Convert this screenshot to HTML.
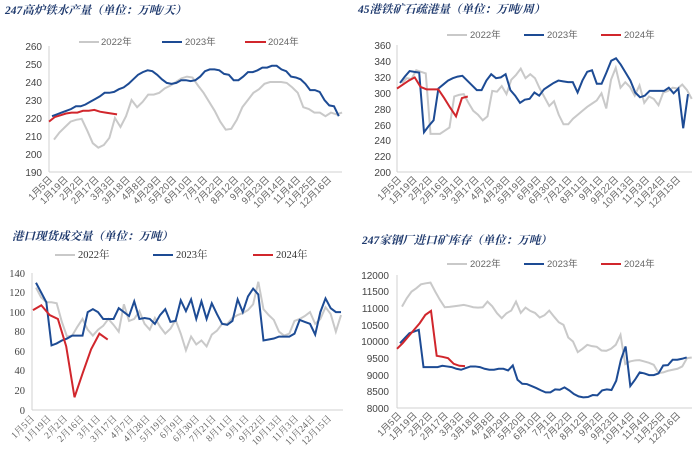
<!DOCTYPE html>
<html><head><meta charset="utf-8"><style>
body{margin:0;background:#fff;}
svg{display:block;font-family:"Liberation Sans","Noto Sans CJK SC",sans-serif;}
.t{font-family:"Liberation Serif","Noto Serif CJK SC",serif;font-weight:bold;font-size:11.5px;fill:#1f3a6e;font-style:italic}
.yl{font-size:10px;fill:#444;text-anchor:end}
.xl{font-size:9.5px;fill:#666;text-anchor:end}
.lg{font-size:9.5px;fill:#666}
.g{fill:none;stroke:#c9c9c9;stroke-width:2}
.b{fill:none;stroke:#1d4b94;stroke-width:2}
.r{fill:none;stroke:#d1262c;stroke-width:2}
.ax{stroke:#d0d0d0;stroke-width:1}
</style></head><body>
<svg width="698" height="460" viewBox="0 0 698 460">
<!-- Panel 1 -->
<text class="t" x="5" y="14">247高炉铁水产量（单位：万吨/天）</text>
<line class="ax" x1="79" y1="42" x2="99" y2="42" style="stroke:#c9c9c9;stroke-width:2"/><text class="lg" x="101" y="45">2022年</text>
<line x1="162" y1="42" x2="182" y2="42" stroke="#1d4b94" stroke-width="2"/><text class="lg" x="185" y="45">2023年</text>
<line x1="245" y1="42" x2="266" y2="42" stroke="#d1262c" stroke-width="2"/><text class="lg" x="268" y="45">2024年</text>
<g class="yl"><text x="42" y="50">260</text><text x="42" y="68">250</text><text x="42" y="86">240</text><text x="42" y="104">230</text><text x="42" y="122">220</text><text x="42" y="140">210</text><text x="42" y="158">200</text><text x="42" y="176">190</text></g>
<line class="ax" x1="49" y1="46" x2="49" y2="172"/><line class="ax" x1="49" y1="172" x2="342" y2="172"/>
<g transform="translate(54,514) scale(5.54,-1.8)"><polyline class="g" vector-effect="non-scaling-stroke" points="0,208 1,212 2,215 3,218 4,219 5,219.5 6,213 7,206 8,203.5 9,205 10,209 11,220 12,215 13,221 14,230 15,226 16,229 17,233 18,233 19,234 20,236.5 21,238 22,240 23,242 24,243 25,242.5 26,238 27,234 28,229 29,224 30,218 31,213.5 32,214 33,219 34,226 35,230 36,234 37,236 38,239 39,240 40,240 41,240 42,239.5 43,237 44,234 45,226 46,225 47,223 48,223 49,221 50,223 51,222 52,223"/></g>
<g transform="translate(52,514) scale(4.78,-1.8)"><polyline class="b" vector-effect="non-scaling-stroke" points="0,221 1,222 2,223 3,224 4,225 5,226.5 6,226.5 7,227.5 8,229 9,230.5 10,232 11,234 12,234 13,234.5 14,236 15,237 16,239 17,241.5 18,244 19,245.5 20,246.5 21,246 22,244 23,241.5 24,239.5 25,239 26,239.5 27,241 28,241 29,240.5 30,241 31,243 32,246 33,247 34,247 35,246.5 36,244.5 37,244 38,241 39,241 40,243 41,245.5 42,245.5 43,246.5 44,248 45,248 46,249 47,249 48,247 49,246 50,243 51,242.5 52,241.5 53,239 54,235.5 55,235.5 56,234.5 57,230 58,227 59,226.5 60,221"/></g>
<g transform="translate(49,514) scale(5.67,-1.8)"><polyline class="r" vector-effect="non-scaling-stroke" points="0,218 1,220.5 2,221.5 3,222.5 4,223 5,223 6,224 7,224 8,224.5 9,223.5 10,223 11,222.5 12,222"/></g>
<g class="xl">
<text transform="translate(53,180) rotate(-45)">1月5日</text><text transform="translate(68.5,180) rotate(-45)">1月19日</text><text transform="translate(84,180) rotate(-45)">2月2日</text><text transform="translate(99.5,180) rotate(-45)">2月17日</text><text transform="translate(115,180) rotate(-45)">3月3日</text><text transform="translate(130.5,180) rotate(-45)">3月18日</text><text transform="translate(146,180) rotate(-45)">4月8日</text><text transform="translate(161.5,180) rotate(-45)">4月29日</text><text transform="translate(177,180) rotate(-45)">5月20日</text><text transform="translate(192.5,180) rotate(-45)">6月10日</text><text transform="translate(208,180) rotate(-45)">7月1日</text><text transform="translate(223.5,180) rotate(-45)">7月22日</text><text transform="translate(239,180) rotate(-45)">8月12日</text><text transform="translate(254.5,180) rotate(-45)">9月2日</text><text transform="translate(270,180) rotate(-45)">9月23日</text><text transform="translate(285.5,180) rotate(-45)">10月14日</text><text transform="translate(301,180) rotate(-45)">11月4日</text><text transform="translate(316.5,180) rotate(-45)">11月25日</text><text transform="translate(332,180) rotate(-45)">12月16日</text>
</g>

<!-- Panel 2 -->
<text class="t" x="358" y="13">45港铁矿石疏港量（单位：万吨/周）</text>
<line x1="447" y1="35" x2="467" y2="35" stroke="#c9c9c9" stroke-width="2"/><text class="lg" x="470" y="38">2022年</text>
<line x1="524" y1="35" x2="544" y2="35" stroke="#1d4b94" stroke-width="2"/><text class="lg" x="547" y="38">2023年</text>
<line x1="601" y1="35" x2="621" y2="35" stroke="#d1262c" stroke-width="2"/><text class="lg" x="624" y="38">2024年</text>
<g class="yl"><text x="391" y="49">360</text><text x="391" y="65">340</text><text x="391" y="81">320</text><text x="391" y="97">300</text><text x="391" y="113">280</text><text x="391" y="129">260</text><text x="391" y="144">240</text><text x="391" y="160">220</text><text x="391" y="176">200</text></g>
<line class="ax" x1="397" y1="45" x2="397" y2="172"/><line class="ax" x1="397" y1="172" x2="692" y2="172"/>
<g transform="translate(402,331) scale(4.75,-0.795)"><polyline class="g" vector-effect="non-scaling-stroke" points="0,312 1,318 2,317 3,328 4,326 5,324 6,248 7,248 8,248 9,252 10,256 11,295 12,297 13,298 14,287 15,277 16,272 17,265 18,270 19,302 20,301 21,308 22,298 23,316 24,322 25,330 26,318 27,323 28,318 29,305 30,294 31,283 32,289 33,272 34,260 35,260 36,267 37,272 38,277 39,282 40,286 41,290 42,299 43,280 44,316 45,331 46,306 47,313 48,307 49,296 50,309 51,287 52,295 53,292 54,284 55,300 56,302 57,306 58,305 59,310 60,303 61,292"/></g>
<g transform="translate(400,331) scale(4.8,-0.795)"><polyline class="b" vector-effect="non-scaling-stroke" points="0,312 1,320 2,327 3,326 4,325 5,250 6,258 7,265 8,305 9,310 10,315 11,318 12,320 13,321 14,315 15,309 16,303 17,303 18,315 19,323 20,318 21,319 22,323 23,303 24,296 25,287 26,291 27,292 28,300 29,296 30,304 31,308 32,312 33,315 34,314 35,313 36,313 37,300 38,315 39,326 40,328 41,311 42,311 43,325 44,340 45,343 46,335 47,325 48,315 49,300 50,294 51,296 52,302 53,302 54,302 55,302 56,306 57,299 58,305 59,255 60,298"/></g>
<g transform="translate(397,331) scale(5.9,-0.795)"><polyline class="r" vector-effect="non-scaling-stroke" points="0,305 1,310 2,315 3,319 4,307 5,304 6,304 7,304 8,293 9,281 10,270 11,293 12,295"/></g>
<g class="xl">
<text transform="translate(402,180) rotate(-45)">1月5日</text><text transform="translate(417.5,180) rotate(-45)">1月19日</text><text transform="translate(433,180) rotate(-45)">2月2日</text><text transform="translate(448.5,180) rotate(-45)">2月16日</text><text transform="translate(464,180) rotate(-45)">3月1日</text><text transform="translate(479.5,180) rotate(-45)">3月17日</text><text transform="translate(495,180) rotate(-45)">4月7日</text><text transform="translate(510.5,180) rotate(-45)">4月28日</text><text transform="translate(526,180) rotate(-45)">5月19日</text><text transform="translate(541.5,180) rotate(-45)">6月9日</text><text transform="translate(557,180) rotate(-45)">6月30日</text><text transform="translate(572.5,180) rotate(-45)">7月21日</text><text transform="translate(588,180) rotate(-45)">8月11日</text><text transform="translate(603.5,180) rotate(-45)">9月1日</text><text transform="translate(619,180) rotate(-45)">9月22日</text><text transform="translate(634.5,180) rotate(-45)">10月13日</text><text transform="translate(650,180) rotate(-45)">11月3日</text><text transform="translate(665.5,180) rotate(-45)">11月24日</text><text transform="translate(681,180) rotate(-45)">12月15日</text>
</g>

<!-- Panel 3 -->
<text class="t" x="12" y="240">港口现货成交量（单位：万吨）</text>
<line x1="55" y1="255" x2="75" y2="255" stroke="#c9c9c9" stroke-width="2"/><text class="lg" x="78" y="258" style="font-family:'Liberation Serif','Noto Serif CJK SC',serif;font-size:10.5px;fill:#333">2022年</text>
<line x1="153" y1="255" x2="173" y2="255" stroke="#1d4b94" stroke-width="2"/><text class="lg" x="176" y="258" style="font-family:'Liberation Serif','Noto Serif CJK SC',serif;font-size:10.5px;fill:#333">2023年</text>
<line x1="253" y1="255" x2="273" y2="255" stroke="#d1262c" stroke-width="2"/><text class="lg" x="276" y="258" style="font-family:'Liberation Serif','Noto Serif CJK SC',serif;font-size:10.5px;fill:#333">2024年</text>
<g class="yl" style="font-family:'Liberation Serif',serif;font-size:10.5px"><text x="25" y="277">140</text><text x="25" y="296">120</text><text x="25" y="316">100</text><text x="25" y="335">80</text><text x="25" y="355">60</text><text x="25" y="374">40</text><text x="25" y="394">20</text><text x="25" y="414">0</text></g>
<line class="ax" x1="32" y1="273" x2="32" y2="410"/><line class="ax" x1="32" y1="410" x2="343" y2="410"/>
<g transform="translate(36,410) scale(5.17,-0.979)"><polyline class="g" vector-effect="non-scaling-stroke" points="0,125 1,115 2,110 3,110 4,109 5,90 6,75 7,76 8,85 9,93 10,82 11,76 12,82 13,86 14,93 15,87 16,80 17,108 18,91 19,93 20,101 21,88 22,82 23,94 24,85 25,78 26,83 27,92 28,78 29,61 30,75 31,67 32,71 33,65 34,77 35,81 36,88 37,88 38,94 39,97 40,99 41,102 42,108 43,131 44,103 45,97 46,92 47,80 48,76 49,78 50,91 51,93 52,96 53,100 54,88 55,93 56,105 57,98 58,80 59,97"/></g>
<g transform="translate(36,410) scale(5.17,-0.979)"><polyline class="b" vector-effect="non-scaling-stroke" points="0,130 1,120 2,110 3,66 4,68 5,71 6,73 7,76 8,76 9,76 10,100 11,103 12,100 13,93 14,93 15,93 16,104 17,100 18,96 19,111 20,93 21,94 22,93 23,88 24,97 25,103 26,90 27,91 28,112 29,101 30,113 31,93 32,111 33,93 34,109 35,98 36,88 37,87 38,91 39,113 40,100 41,116 42,124 43,118 44,71 45,72 46,73 47,75 48,75 49,75 50,78 51,92 52,90 53,88 54,77 55,100 56,114 57,104 58,100 59,100"/></g>
<g transform="translate(33,410) scale(8.3,-0.979)"><polyline class="r" vector-effect="non-scaling-stroke" points="0,102 1,107 2,97 3,93 4,65 5,13 6,38 7,62 8,78 9,72"/></g>
<g class="xl" style="font-family:'Liberation Serif','Noto Serif CJK SC',serif">
<text transform="translate(35,419) rotate(-45)">1月5日</text><text transform="translate(51.5,419) rotate(-45)">1月19日</text><text transform="translate(68,419) rotate(-45)">2月2日</text><text transform="translate(84.5,419) rotate(-45)">2月16日</text><text transform="translate(101,419) rotate(-45)">3月1日</text><text transform="translate(117.5,419) rotate(-45)">3月17日</text><text transform="translate(134,419) rotate(-45)">4月7日</text><text transform="translate(150.5,419) rotate(-45)">4月28日</text><text transform="translate(167,419) rotate(-45)">5月19日</text><text transform="translate(183.5,419) rotate(-45)">6月9日</text><text transform="translate(200,419) rotate(-45)">6月30日</text><text transform="translate(216.5,419) rotate(-45)">7月21日</text><text transform="translate(233,419) rotate(-45)">8月11日</text><text transform="translate(249.5,419) rotate(-45)">9月1日</text><text transform="translate(266,419) rotate(-45)">9月22日</text><text transform="translate(282.5,419) rotate(-45)">10月13日</text><text transform="translate(299,419) rotate(-45)">11月3日</text><text transform="translate(315.5,419) rotate(-45)">11月24日</text><text transform="translate(332,419) rotate(-45)">12月15日</text>
</g>

<!-- Panel 4 -->
<text class="t" x="362" y="244">247家钢厂进口矿库存（单位：万吨）</text>
<line x1="447" y1="264" x2="467" y2="264" stroke="#c9c9c9" stroke-width="2"/><text class="lg" x="470" y="267">2022年</text>
<line x1="524" y1="264" x2="544" y2="264" stroke="#1d4b94" stroke-width="2"/><text class="lg" x="547" y="267">2023年</text>
<line x1="601" y1="264" x2="621" y2="264" stroke="#d1262c" stroke-width="2"/><text class="lg" x="624" y="267">2024年</text>
<g class="yl"><text x="389" y="279">12000</text><text x="389" y="295">11500</text><text x="389" y="312">11000</text><text x="389" y="329">10500</text><text x="389" y="345">10000</text><text x="389" y="362">9500</text><text x="389" y="379">9000</text><text x="389" y="395">8500</text><text x="389" y="412">8000</text></g>
<line class="ax" x1="397" y1="275" x2="397" y2="408"/><line class="ax" x1="397" y1="408" x2="692" y2="408"/>
<g transform="translate(402,674) scale(4.75,-0.03325)"><polyline class="g" vector-effect="non-scaling-stroke" points="0,11050 1,11300 2,11500 3,11600 4,11720 5,11750 6,11770 7,11500 8,11250 9,11030 10,11040 11,11060 12,11080 13,11100 14,11070 15,11030 16,11020 17,11030 18,11200 19,11060 20,10850 21,10700 22,10850 23,10930 24,11200 25,10860 26,11020 27,10920 28,10860 29,10720 30,10790 31,10930 32,10750 33,10580 34,10500 35,10120 36,10000 37,9680 38,9780 39,9900 40,9860 41,9840 42,9730 43,9720 44,9780 45,9900 46,10200 47,9320 48,9400 49,9430 50,9440 51,9400 52,9360 53,9300 54,9050 55,9070 56,9120 57,9150 58,9180 59,9250 60,9500 61,9520"/></g>
<g transform="translate(400,674) scale(4.7,-0.03325)"><polyline class="b" vector-effect="non-scaling-stroke" points="0,9950 1,10100 2,10250 3,10300 4,10350 5,9230 6,9230 7,9230 8,9230 9,9270 10,9250 11,9230 12,9180 13,9150 14,9200 15,9250 16,9250 17,9230 18,9180 19,9150 20,9150 21,9180 22,9180 23,9130 24,9280 25,8850 26,8730 27,8720 28,8660 29,8600 30,8530 31,8470 32,8470 33,8560 34,8550 35,8620 36,8530 37,8420 38,8350 39,8320 40,8330 41,8390 42,8380 43,8530 44,8560 45,8540 46,8820 47,9450 48,9850 49,8660 50,8850 51,9070 52,9040 53,8990 54,8990 55,9040 56,9280 57,9290 58,9450 59,9450 60,9480 61,9520"/></g>
<g transform="translate(397,674) scale(5.67,-0.03325)"><polyline class="r" vector-effect="non-scaling-stroke" points="0,9780 1,9950 2,10150 3,10350 4,10550 5,10800 6,10920 7,9570 8,9540 9,9500 10,9330 11,9270 12,9260"/></g>
<g class="xl">
<text transform="translate(402,416) rotate(-45)">1月5日</text><text transform="translate(417.5,416) rotate(-45)">1月19日</text><text transform="translate(433,416) rotate(-45)">2月2日</text><text transform="translate(448.5,416) rotate(-45)">2月17日</text><text transform="translate(464,416) rotate(-45)">3月3日</text><text transform="translate(479.5,416) rotate(-45)">3月18日</text><text transform="translate(495,416) rotate(-45)">4月8日</text><text transform="translate(510.5,416) rotate(-45)">4月29日</text><text transform="translate(526,416) rotate(-45)">5月20日</text><text transform="translate(541.5,416) rotate(-45)">6月10日</text><text transform="translate(557,416) rotate(-45)">7月1日</text><text transform="translate(572.5,416) rotate(-45)">7月22日</text><text transform="translate(588,416) rotate(-45)">8月12日</text><text transform="translate(603.5,416) rotate(-45)">9月2日</text><text transform="translate(619,416) rotate(-45)">9月23日</text><text transform="translate(634.5,416) rotate(-45)">10月14日</text><text transform="translate(650,416) rotate(-45)">11月4日</text><text transform="translate(665.5,416) rotate(-45)">11月25日</text><text transform="translate(681,416) rotate(-45)">12月16日</text>
</g>
</svg>
</body></html>
